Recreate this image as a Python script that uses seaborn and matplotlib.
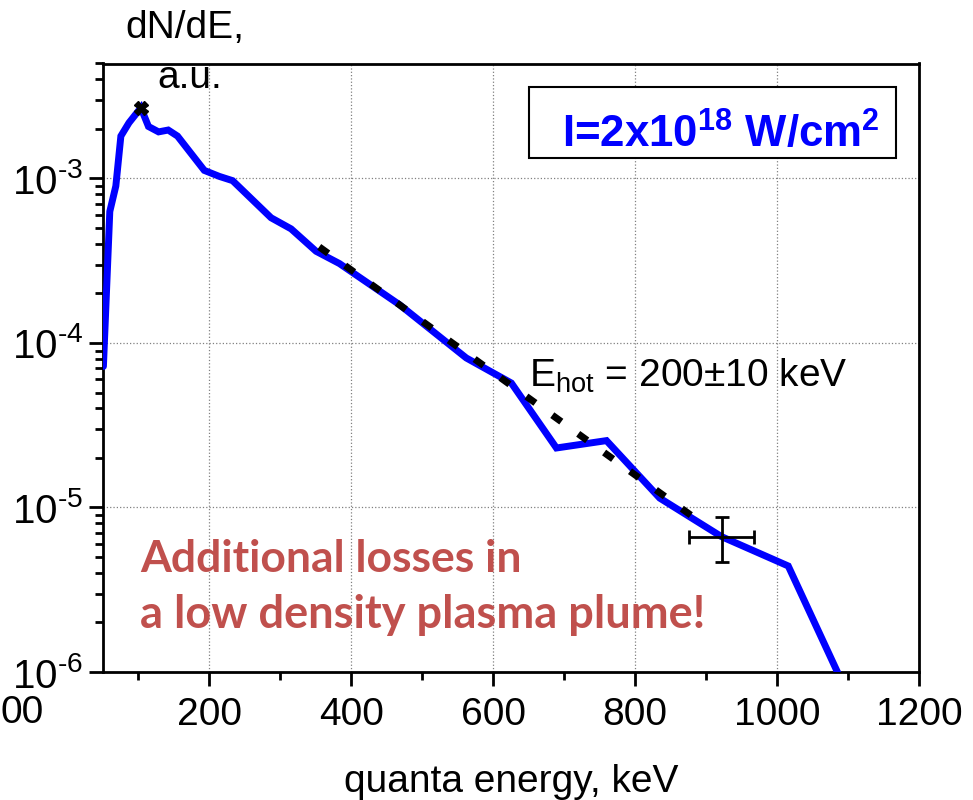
import matplotlib
matplotlib.use("Agg")
import matplotlib.pyplot as plt
from matplotlib.ticker import FixedLocator, MultipleLocator, LogLocator, FuncFormatter, NullFormatter
from matplotlib.patches import Rectangle
import numpy as np
import pandas as pd
import seaborn as sns

# Measured photon spectrum (keV, arbitrary units)
energy = [51, 60, 68.5, 75.6, 87, 103.8, 114.5, 128.7, 142.3, 155.4, 193.1, 214.2,
          233, 287.2, 315.4, 350.6, 383.5, 468.1, 562.2, 625.7, 689.2, 759.7,
          834.8, 921.8, 1015.8, 1086]
dNdE = [7.2e-5, 6.3e-4, 9.0e-4, 1.81e-3, 2.18e-3, 2.69e-3, 2.07e-3, 1.92e-3,
        1.97e-3, 1.81e-3, 1.12e-3, 1.03e-3, 9.7e-4, 5.77e-4, 4.94e-4, 3.61e-4,
        3.04e-4, 1.71e-4, 8.11e-5, 5.71e-5, 2.30e-5, 2.55e-5, 1.14e-5, 6.65e-6,
        4.41e-6, 9.8e-7]

# Exponential fit (straight on log axis)
fit_energy = [355, 893]
fit_dNdE = [3.84e-4, 8.1e-6]

# Spectrum maximum marker
peak_energy = [103.8]
peak_dNdE = [2.69e-3]

# Representative error bar
err_energy = 921.8
err_dNdE = 6.65e-6
err_dE = 46
err_low, err_high = 4.65e-6, 8.73e-6

x_ticks = [200, 400, 600, 800, 1000, 1200]
y_ticks = [1e-6, 1e-5, 1e-4, 1e-3]

sns.set_style("white")
plt.rcParams["font.family"] = ["Liberation Sans", "DejaVu Sans"]
plt.rcParams["mathtext.fontset"] = "custom"
plt.rcParams["mathtext.rm"] = "Liberation Sans"
plt.rcParams["mathtext.it"] = "Liberation Sans:italic"
plt.rcParams["mathtext.bf"] = "Liberation Sans:bold"
for key in ("text.color", "axes.labelcolor", "xtick.color", "ytick.color", "axes.edgecolor"):
    plt.rcParams[key] = "black"

W, H = 973, 800
fig = plt.figure(figsize=(W / 100, H / 100), dpi=100)
ax = fig.add_axes([102.7 / W, 1 - 672 / H, (919 - 102.7) / W, (672 - 63.5) / H])


def fx(px):
    return px / W


def fy(py):
    return 1 - py / H


spec = pd.DataFrame({"energy": energy, "dNdE": dNdE})
fit = pd.DataFrame({"energy": fit_energy, "dNdE": fit_dNdE})

sns.lineplot(data=spec, x="energy", y="dNdE", ax=ax, color="#0000ff", lw=5,
             sort=False, solid_joinstyle="miter", zorder=3)
sns.lineplot(data=fit, x="energy", y="dNdE", ax=ax, color="black", lw=5,
             sort=False, zorder=4)
ax.lines[-1].set_linestyle((0, (1.6, 3.0)))
ax.lines[-1].set_dash_capstyle("butt")

ax.plot(peak_energy, peak_dNdE, marker="X", color="black", ms=10, ls="none", zorder=5)

ax.errorbar([err_energy], [err_dNdE], xerr=[[err_dE], [err_dE]],
            yerr=[[err_dNdE - err_low], [err_high - err_dNdE]],
            fmt="none", ecolor="black", elinewidth=2, capsize=5, capthick=2, zorder=6)

ax.set_yscale("log")
ax.set_xlim(50, 1200)
ax.set_ylim(1e-6, 5e-3)

ax.xaxis.set_major_locator(FixedLocator(x_ticks))
ax.xaxis.set_minor_locator(MultipleLocator(100))
ax.yaxis.set_major_locator(FixedLocator(y_ticks))
ax.yaxis.set_minor_locator(LogLocator(base=10, subs=np.arange(2, 10)))
ax.yaxis.set_minor_formatter(NullFormatter())
ax.yaxis.set_major_formatter(FuncFormatter(
    lambda v, p: r"$\mathregular{10^{\text{%d}}}$" % int(round(np.log10(v)))))

ax.tick_params(axis="both", which="major", direction="out", length=10, width=2,
               labelsize=28, top=False, right=False, bottom=True, left=True, color="black")
ax.tick_params(axis="both", which="minor", direction="out", length=6, width=2,
               top=False, right=False, bottom=True, left=True, color="black")
ax.tick_params(axis="x", which="major", pad=8)
ax.tick_params(axis="y", which="major", pad=4, labelsize=29)

ax.grid(True, which="major", ls=":", color="#808080", lw=0.9)
for s in ax.spines.values():
    s.set_linewidth(2)
    s.set_color("black")

ax.set_xlabel("quanta energy, keV", fontsize=28, labelpad=22)
ax.set_ylabel("")

# Axis title split above the frame
fig.text(fx(185), fy(38), "dN/dE,", fontsize=28, ha="center", va="baseline")
fig.text(fx(190), fy(88), "a.u.", fontsize=28, ha="center", va="baseline")
fig.text(fx(1), fy(723), "00", fontsize=28, ha="left", va="baseline")

# Fit annotation
fig.text(fx(529), fy(387), r"E$_{\mathregular{hot}}$ = 200$\pm$10 keV",
         fontsize=28, ha="left", va="baseline")

# Intensity box
fig.patches.append(Rectangle((fx(529), fy(158)), fx(896) - fx(529), fy(87) - fy(158),
                             transform=fig.transFigure, fill=True, facecolor="white",
                             edgecolor="black", lw=1.5, zorder=5))
fig.text(fx(562), fy(148), r"I=2x10$^{\mathbf{18}}$ W/cm$^{\mathbf{2}}$",
         fontsize=31.5, fontweight="bold", color="#0000ff", ha="left", va="baseline", zorder=6)

# Remark about plasma plume
red = "#C0504D"
fig.text(fx(140), fy(572), "Additional losses in", fontsize=32, fontweight="bold",
         color=red, family=["Lato", "DejaVu Sans"], ha="left", va="baseline")
fig.text(fx(140), fy(628), "a low density plasma plume!", fontsize=32.5, fontweight="bold",
         color=red, family=["Lato", "DejaVu Sans"], ha="left", va="baseline")

fig.savefig("out.png", dpi=100)
